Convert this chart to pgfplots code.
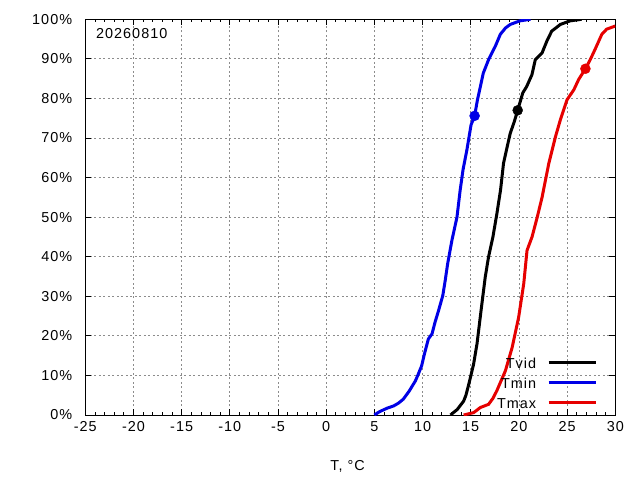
\documentclass[border=0pt]{standalone}
\usepackage{pgfplots}
\pgfplotsset{compat=1.18}
\usepackage{fontspec}
\setmainfont{Liberation Sans}[LetterSpace=7]
\definecolor{cblue}{RGB}{0,0,230}
\definecolor{cred}{RGB}{230,0,0}
\begin{document}
\fontsize{14.4}{17}\selectfont
\begin{tikzpicture}
\useasboundingbox (-85.3pt,-65pt) rectangle (554.7pt,415pt);
\begin{axis}[
  at={(0pt,0pt)}, anchor=south west,
  scale only axis, width=530pt, height=395.7pt,
  xmin=-25, xmax=30, ymin=0, ymax=100,
  xtick={-25,-20,...,30}, ytick={0,10,...,100},
  minor x tick num=4,
  tick align=inside,
  major tick length=6pt, minor tick length=3pt,
  every tick/.style={black, line width=0.8pt},
  axis line style={black, line width=1pt},
  grid=major,
  major grid style={gray!90, line width=0.8pt, dash pattern=on 2pt off 2.5pt},
  /pgf/number format/assume math mode=true,
  yticklabel={\pgfmathprintnumber{\tick}\%},
  every tick label/.append style={inner sep=0pt, font=\fontsize{14.4}{17}\selectfont},
  yticklabel style={xshift=-13pt},
  xticklabel style={yshift=-6.7pt},
  xlabel={T, °C},
  xlabel style={at={(axis description cs:0.495,0)}, anchor=north, inner sep=0pt, yshift=-45pt},
  legend plot pos=right,
  legend cell align=right,
  legend image code/.code={\draw[#1] (0pt,0pt) -- (47pt,0pt);},
  legend style={draw=none, fill=none, at={(rel axis cs:1,0)}, anchor=south east,
    xshift=-18pt, yshift=2pt, inner sep=0pt, column sep=11pt, row sep=0pt,
    font=\fontsize{14.4}{17}\selectfont,
    nodes={inner sep=0pt, text height=13pt, text depth=7pt}},
]
\addplot[black, line width=3pt] coordinates {
(12.9,0) (13.6,1.4) (14.26,3.5) (14.5,5) (14.8,7.8) (15.3,12.9) (15.65,18)
(16.07,26.4) (16.5,34.8) (16.85,40) (17.3,45) (17.72,51) (18.1,57) (18.4,63.6)
(18.8,68) (19.1,71.2) (19.5,74) (19.87,77) (20.4,81.4) (20.8,83) (21.35,86)
(21.7,89.8) (22.4,91.5) (22.9,94.5) (23.4,97) (24.3,98.7) (25.3,99.6) (26.5,100)
};
\addlegendentry{\raisebox{-3pt}{Tvid}}
\addplot[cblue, line width=3pt] coordinates {
(5.0,0) (5.5,0.8) (6.3,1.7) (7.0,2.3) (7.5,3.0) (8.0,4.0) (8.6,6.0) (9.25,8.6)
(9.5,10.0) (9.9,12.4) (10.2,15.5) (10.6,19.2) (10.98,20.5) (11.3,23.5) (11.66,26.4)
(12.1,30.2) (12.35,34) (12.6,38.2) (13.05,44.2) (13.57,50) (13.9,56.8) (14.2,62)
(14.6,67) (15.03,73.3) (15.4,75.6) (15.7,79.7) (16.0,83) (16.3,86.4) (16.85,89.8)
(17.55,93.2) (18.07,96.2) (18.6,97.8) (19.1,98.7) (20.1,99.6) (21.2,100)
};
\addlegendentry{\raisebox{-3pt}{Tmin}}
\addplot[cred, line width=3pt] coordinates {
(14.26,0) (15.3,0.6) (16.0,1.9) (16.85,2.7) (17.3,4.2) (17.7,6.1) (18.6,11.2)
(19.3,17.1) (19.97,24.7) (20.5,33.2) (20.84,41.6) (21.36,45) (21.9,50) (22.4,55)
(23.1,63.6) (23.8,70.4) (24.3,74.6) (25.0,79.7) (25.7,82.2) (26.2,84.8) (26.9,87.5)
(27.4,89.8) (27.9,92.4) (28.6,96.2) (29.1,97.5) (30,98.3)
};
\addlegendentry{\raisebox{-3pt}{Tmax}}
\addplot[forget plot, only marks, mark=*, mark size=5pt, black] coordinates {(19.87,77)};
\addplot[forget plot, only marks, mark=*, mark size=5pt, cblue] coordinates {(15.4,75.6)};
\addplot[forget plot, only marks, mark=*, mark size=5pt, cred] coordinates {(26.9,87.5)};
\node[anchor=west, inner sep=0pt] at (rel axis cs:0,1) [xshift=10.7pt, yshift=-14.5pt] {20260810};
\end{axis}
\end{tikzpicture}
\end{document}
